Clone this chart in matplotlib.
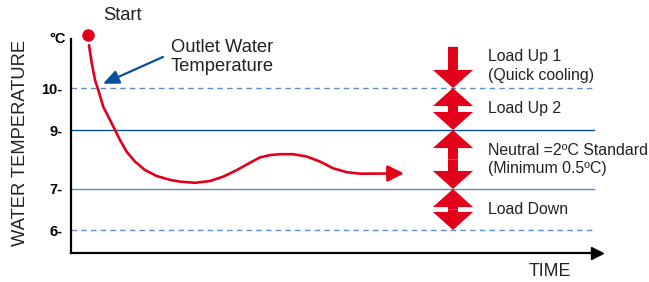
import numpy as np
import matplotlib
matplotlib.use("Agg")
import matplotlib.pyplot as plt
from matplotlib.patches import ArrowStyle

plt.rcParams['font.family'] = ['Liberation Sans', 'DejaVu Sans']

# outlet water temperature curve (time in arbitrary units, temp in deg C)
times = [18, 20.7, 24, 27.3, 32.3, 39, 44, 49, 55.7, 64, 74, 85.7, 99, 109, 124, 139, 152.3,
         165.7, 179, 189, 199, 209, 222.3, 235.7, 249, 262.3, 275.7, 289, 302]
temps = [11.02, 10.6, 10.19, 9.95, 9.55, 9.24, 9.0, 8.66, 8.26, 7.93, 7.64, 7.44, 7.31, 7.25, 7.21,
         7.27, 7.42, 7.64, 7.89, 8.07, 8.15, 8.18, 8.18, 8.1, 7.93, 7.7, 7.57, 7.52, 7.52]
arrow_end = (333, 7.53)
start_point = (17, 11.26)

# reference levels
levels = [10, 9, 7, 6]
level_labels = ['10-', '9-', '7-', '6-']
level_styles = ['--', '-', '-', '--']
level_colors = ['#5b8fcf', '#0a4f9e', '#5a88c4', '#5b8fcf']

# load bands: (low, high, name)
band_x = 382
bands = [(9, 10, 'Load Up 2'), (7, 9, 'Neutral =2ºC Standard\n(Minimum 0.5ºC)'), (6, 7, 'Load Down')]
load_up1 = (10.98, 10)
load_up1_text = 'Load Up 1\n(Quick cooling)'

# non-uniform temperature axis of the schematic
knot_t = [4, 6, 7, 9, 10, 13]
knot_p = [-59, 23, 64, 123, 165, 291]
def fwd(t):
    return np.interp(t, knot_t, knot_p)
def inv(p):
    return np.interp(p, knot_p, knot_t)

red = '#e2001a'
txt = '#222222'

fig = plt.figure(figsize=(6.49, 2.82), dpi=100)
ax = fig.add_axes([71/649, 29/282, 526/649, 214/282])
ax.set_yscale('function', functions=(fwd, inv))
ax.set_xlim(0, 526)
ax.set_ylim(inv(0), inv(214))
ax.patch.set_alpha(0)

for s in ['top', 'right']:
    ax.spines[s].set_visible(False)
for s in ['left', 'bottom']:
    ax.spines[s].set_linewidth(1.6)
ax.plot([1.0], [0], marker='>', color='black', markersize=8, transform=ax.transAxes, clip_on=False)

ax.set_xticks([])
ax.set_yticks(levels)
ax.set_yticklabels(level_labels, fontweight='bold', fontsize=10.5)
ax.tick_params(axis='y', length=0, pad=6)
ax.text(-0.01, 1.0, '°C', transform=ax.transAxes, ha='right', va='center', fontsize=10.5, fontweight='bold')

for lv, ls, c in zip(levels, level_styles, level_colors):
    ax.plot([0, 523], [lv, lv], ls=ls, color=c, lw=1.0, dashes=(4, 3) if ls == '--' else (None, None))

# curve
ax.plot(times, temps, color=red, lw=1.9, solid_capstyle='round', solid_joinstyle='round')
ax.annotate('', xy=arrow_end, xytext=(times[-1], temps[-1]),
            arrowprops=dict(arrowstyle='-|>,head_length=0.7,head_width=0.35', color=red, lw=1.9,
                            shrinkA=0, shrinkB=0, mutation_scale=14))
ax.plot(*start_point, 'o', color=red, markersize=8, clip_on=False)

# band arrows
simple = ArrowStyle.Simple(head_length=1.3, head_width=2.9, tail_width=0.72)
def block_arrow(y0, y1):
    ax.annotate('', xy=(band_x, y1), xytext=(band_x, y0),
                arrowprops=dict(arrowstyle=simple, color=red, lw=0, shrinkA=0, shrinkB=0, mutation_scale=10))

block_arrow(*load_up1)
for lo, hi, name in bands:
    mid = inv((fwd(lo) + fwd(hi)) / 2)
    block_arrow(mid, hi)
    block_arrow(mid, lo)
    ax.text(band_x + 35, mid, name, ha='left', va='center', fontsize=11.4, color=txt, linespacing=1.3)
ax.text(band_x + 35, inv((fwd(load_up1[0]) + 160) / 2 + 4), load_up1_text, ha='left', va='center',
        fontsize=11.4, color=txt, linespacing=1.3)

# annotations
fig.text(122/649, 1 - 15/282, 'Start', ha='center', va='center', fontsize=13.2, color=txt)
fig.text(171/649, 1 - 57/282, 'Outlet Water\nTemperature', ha='left', va='center', fontsize=13.2,
         color=txt, linespacing=1.15)
ax.annotate('', xy=(32, 10.1), xytext=(92, 10.74),
            arrowprops=dict(arrowstyle='-|>,head_length=0.8,head_width=0.35', color='#0a4f9e', lw=1.6,
                            shrinkA=0, shrinkB=0, mutation_scale=12))
fig.text(21/649, 1 - 143/282, 'WATER TEMPERATURE', rotation=90, ha='center', va='center',
         fontsize=13.2, color=txt)
fig.text(550/649, 1 - 271/282, 'TIME', ha='center', va='center', fontsize=12.7, color=txt)

fig.savefig('out.png', dpi=100)
